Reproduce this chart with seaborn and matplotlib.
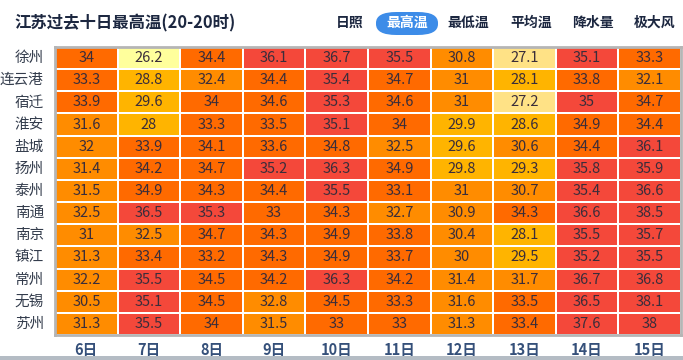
import numpy as np
import pandas as pd
import matplotlib
matplotlib.use("Agg")
import matplotlib.pyplot as plt
from matplotlib.colors import ListedColormap, BoundaryNorm
from matplotlib.patches import FancyBboxPatch, Rectangle
import seaborn as sns

# data
cities = ['徐州', '连云港', '宿迁', '淮安', '盐城', '扬州', '泰州',
          '南通', '南京', '镇江', '常州', '无锡', '苏州']
days = ['6日', '7日', '8日', '9日', '10日', '11日', '12日', '13日', '14日', '15日']

xuzhou = [34, 26.2, 34.4, 36.1, 36.7, 35.5, 30.8, 27.1, 35.1, 33.3]
lianyungang = [33.3, 28.8, 32.4, 34.4, 35.4, 34.7, 31, 28.1, 33.8, 32.1]
suqian = [33.9, 29.6, 34, 34.6, 35.3, 34.6, 31, 27.2, 35, 34.7]
huaian = [31.6, 28, 33.3, 33.5, 35.1, 34, 29.9, 28.6, 34.9, 34.4]
yancheng = [32, 33.9, 34.1, 33.6, 34.8, 32.5, 29.6, 30.6, 34.4, 36.1]
yangzhou = [31.4, 34.2, 34.7, 35.2, 36.3, 34.9, 29.8, 29.3, 35.8, 35.9]
taizhou = [31.5, 34.9, 34.3, 34.4, 35.5, 33.1, 31, 30.7, 35.4, 36.6]
nantong = [32.5, 36.5, 35.3, 33, 34.3, 32.7, 30.9, 34.3, 36.6, 38.5]
nanjing = [31, 32.5, 34.7, 34.3, 34.9, 33.8, 30.4, 28.1, 35.5, 35.7]
zhenjiang = [31.3, 33.4, 33.2, 34.3, 34.9, 33.7, 30, 29.5, 35.2, 35.5]
changzhou = [32.2, 35.5, 34.5, 34.2, 36.3, 34.2, 31.4, 31.7, 36.7, 36.8]
wuxi = [30.5, 35.1, 34.5, 32.8, 34.5, 33.3, 31.6, 33.5, 36.5, 38.1]
suzhou = [31.3, 35.5, 34, 31.5, 33, 33, 31.3, 33.4, 37.6, 38]

tabs = ['日照', '最高温', '最低温', '平均温', '降水量', '极大风']

rows = [xuzhou, lianyungang, suqian, huaian, yancheng, yangzhou, taizhou,
        nantong, nanjing, zhenjiang, changzhou, wuxi, suzhou]
df = pd.DataFrame(rows, index=cities, columns=days)

# temperature bands
bounds = [20, 27, 28, 30, 33, 35, 45]
colors = ['#FFFF9C', '#FFE286', '#FFB400', '#FF8C00', '#FF6A00', '#F4483A']
cmap = ListedColormap(colors)
norm = BoundaryNorm(bounds, cmap.N)

sns.set_theme(style="white")
plt.rcParams['font.family'] = ['Noto Sans CJK SC', 'DejaVu Sans']

fig = plt.figure(figsize=(6.83, 3.6), dpi=100)
fig.patch.set_facecolor('white')
ax = fig.add_axes([55 / 683, 25 / 360, 626 / 683, 288 / 360])

sns.heatmap(df, ax=ax, cmap=cmap, norm=norm, cbar=False,
            annot=True, fmt='g', linewidths=1.2, linecolor='white',
            annot_kws={'fontsize': 10.5, 'color': '#3a2d3a'})

for s in ax.spines.values():
    s.set_visible(True)
    s.set_color('#b5b5b5')
    s.set_linewidth(2)

ax.tick_params(axis='both', length=0)
ax.set_xlabel('')
ax.set_ylabel('')
ax.set_yticklabels(cities, rotation=0, fontsize=10.5, color='#333c4c')
ax.set_xticklabels(days, rotation=0, fontsize=10.5, fontweight='bold', color='#35507a')
ax.tick_params(axis='y', pad=8)
ax.tick_params(axis='x', pad=5)

# title and tabs
fig.text(14 / 683, 1 - 23 / 360, '江苏过去十日最高温(20-20时)', fontsize=11.8,
         fontweight='bold', color='#1c2740', va='center', ha='left')

tab_x = [350, 407, 468, 531, 593, 655]
for name, xc in zip(tabs, tab_x):
    if name == '最高温':
        pill = FancyBboxPatch(((xc - 31) / 683, 1 - 35 / 360), 62 / 683, 23 / 360,
                              boxstyle='round,pad=0,rounding_size=0.03',
                              transform=fig.transFigure, facecolor='#3d8ce8',
                              edgecolor='none', mutation_aspect=360 / 683 * 1.9)
        fig.add_artist(pill)
        fig.text(xc / 683, 1 - 23 / 360, name, fontsize=10, fontweight='bold',
                 color='white', ha='center', va='center')
    else:
        fig.text(xc / 683, 1 - 23 / 360, name, fontsize=10, fontweight='bold',
                 color='#1c2740', ha='center', va='center')

# bottom strip
fig.add_artist(Rectangle((0, 0), 1, 4 / 360, transform=fig.transFigure,
                         facecolor='#b4bcc4', edgecolor='none'))

fig.savefig('out.png', dpi=100)
